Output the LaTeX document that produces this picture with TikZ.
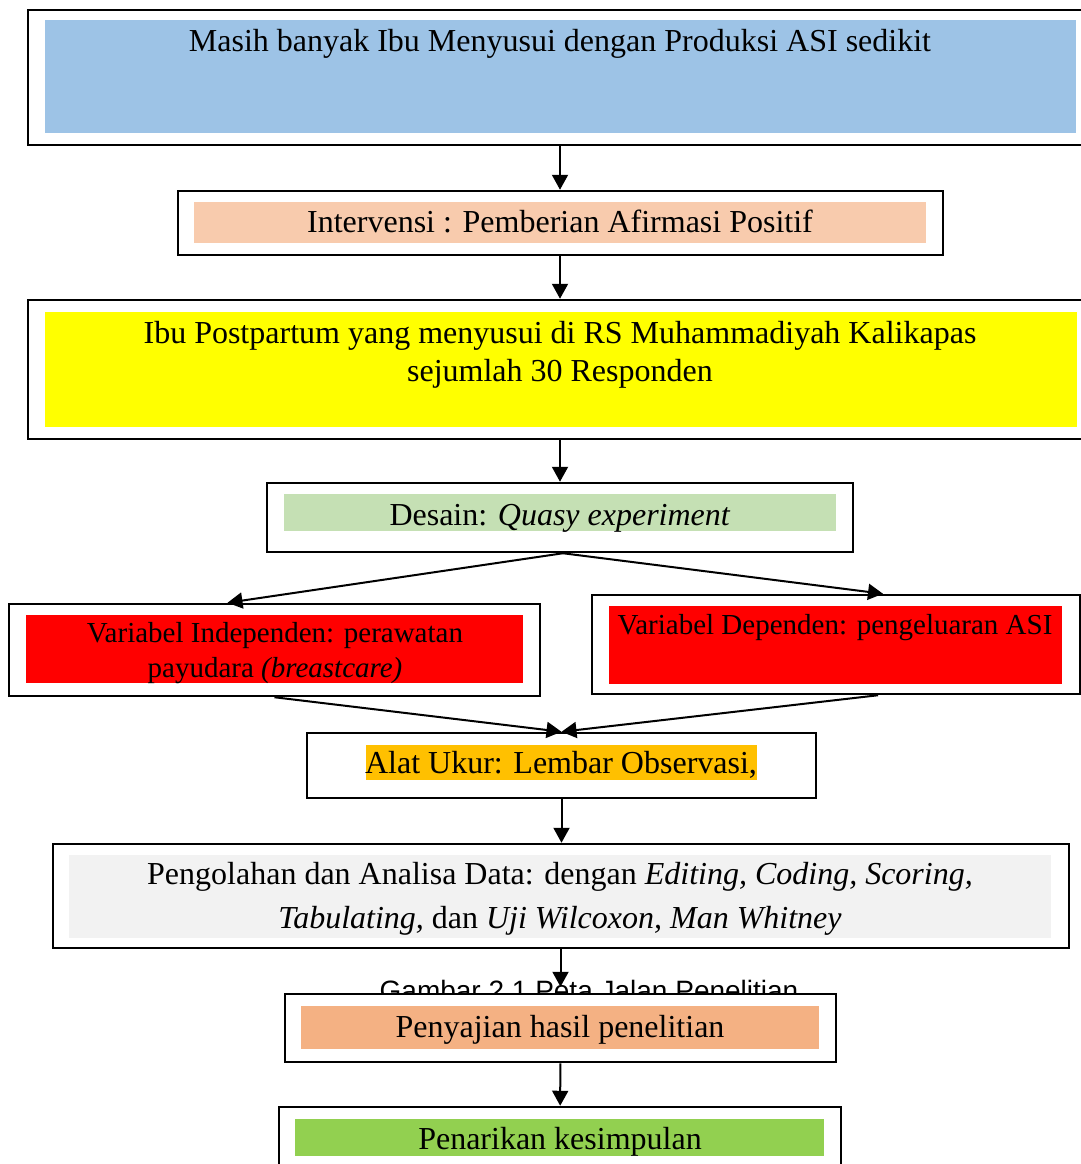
\documentclass[tikz,border=0pt]{standalone}
\usepackage{fontspec}
\setmainfont{Liberation Serif}
\newfontfamily\capfont{Liberation Sans}
\usetikzlibrary{arrows.meta}
\definecolor{biru}{HTML}{9DC3E6}
\definecolor{persik}{HTML}{F8CBAD}
\definecolor{kuning}{HTML}{FFFF00}
\definecolor{hijaumuda}{HTML}{C5E0B4}
\definecolor{merah}{HTML}{FF0000}
\definecolor{jingga}{HTML}{FFC000}
\definecolor{abu}{HTML}{F2F2F2}
\definecolor{salem}{HTML}{F4B183}
\definecolor{hijau}{HTML}{92D050}
\tikzset{
	kotak/.style={draw, line width=2.5pt, fill=white, inner sep=0pt},
	isi/.style={inner sep=0pt},
	teks/.style={anchor=base, inner sep=0pt, align=center, font=\fontsize{32}{38}\selectfont},
	teksvar/.style={teks, font=\fontsize{29}{35}\selectfont},
	panah/.style={-{Triangle[length=15pt,width=16pt]}, line width=2pt},
}

\begin{document}
\begin{tikzpicture}[x=1pt, y=-1pt]
			%%%%% START %%%%%
			\useasboundingbox (0, 0) rectangle (1081, 1164);
			
			% masalah
			\node[kotak, minimum width=1064pt, minimum height=135pt] (masalah) at (560, 77.5) {};
			\node[isi, fill=biru, minimum width=1031pt, minimum height=113pt] (masalahIsi) at (560.5, 76.5) {};
			\node[teks] (masalahTeks) at (560, 52) {Masih banyak Ibu Menyusui dengan Produksi ASI sedikit};
			
			% intervensi
			\node[kotak, minimum width=765pt, minimum height=64pt] (intervensi) at (560.5, 223) {};
			\node[isi, fill=persik, minimum width=732pt, minimum height=41pt] (intervensiIsi) at (560, 222.5) {};
			\node[teks] (intervensiTeks) at (560, 232) {Intervensi : Pemberian Afirmasi Positif};
			
			% responden
			\node[kotak, minimum width=1064pt, minimum height=139pt] (responden) at (560, 369.5) {};
			\node[isi, fill=kuning, minimum width=1032pt, minimum height=115pt] (respondenIsi) at (561, 369.5) {};
			\node[teks] (respondenTeks) at (560, 381) {Ibu Postpartum yang menyusui di RS Muhammadiyah Kalikapas\\sejumlah 30 Responden};
			
			% desain
			\node[kotak, minimum width=586pt, minimum height=69pt] (desain) at (560, 517.5) {};
			\node[isi, fill=hijaumuda, minimum width=552pt, minimum height=37pt] (desainIsi) at (560, 512.5) {};
			\node[teks] (desainTeks) at (560, 525) {Desain: \textit{Quasy experiment}};
			
			% variabel
			\node[kotak, minimum width=531pt, minimum height=92pt] (independen) at (274.5, 650) {};
			\node[isi, fill=merah, minimum width=497pt, minimum height=68pt] (independenIsi) at (274.5, 649) {};
			\node[teksvar] (independenTeks) at (275, 677) {Variabel Independen: perawatan\\payudara \textit{(breastcare)}};
			
			\node[kotak, minimum width=488pt, minimum height=99pt] (dependen) at (836, 644.5) {};
			\node[isi, fill=merah, minimum width=453pt, minimum height=78pt] (dependenIsi) at (835.5, 645) {};
			\node[teksvar] (dependenTeks) at (835, 634) {Variabel Dependen: pengeluaran ASI};
			
			% alat ukur
			\node[kotak, minimum width=509pt, minimum height=65pt] (alat) at (561.5, 765.5) {};
			\node[isi, fill=jingga, minimum width=391pt, minimum height=35pt] (alatIsi) at (561.5, 762.5) {};
			\node[teks] (alatTeks) at (561, 773) {Alat Ukur: Lembar Observasi,};
			
			% pengolahan
			\node[kotak, minimum width=1016pt, minimum height=104pt] (olah) at (561, 896) {};
			\node[isi, fill=abu, minimum width=982pt, minimum height=83pt] (olahIsi) at (560, 896.5) {};
			\node[teks, font=\fontsize{32}{44}\selectfont] (olahTeks) at (560, 928) {Pengolahan dan Analisa Data: dengan \textit{Editing, Coding, Scoring,}\\\textit{Tabulating,} dan \textit{Uji Wilcoxon, Man Whitney}};
			
			% keterangan gambar
			\node[anchor=base, inner sep=0pt, font=\capfont\fontsize{28}{34}\selectfont] (gambar) at (589, 1000) {Gambar 2.1 Peta Jalan Penelitian};
			
			% penyajian
			\node[kotak, minimum width=551pt, minimum height=68pt] (sajian) at (560.5, 1028) {};
			\node[isi, fill=salem, minimum width=518pt, minimum height=43pt] (sajianIsi) at (560, 1027.5) {};
			\node[teks] (sajianTeks) at (560, 1037) {Penyajian hasil penelitian};
			
			% kesimpulan
			\node[kotak, minimum width=562pt, minimum height=70pt] (simpulan) at (560, 1142) {};
			\node[isi, fill=hijau, minimum width=529pt, minimum height=37pt] (simpulanIsi) at (559.5, 1137.5) {};
			\node[teks] (simpulanTeks) at (560, 1149) {Penarikan kesimpulan};
			
			% panah
			\draw[panah] (masalah) -- (intervensi.north -| masalah);
			\draw[panah] (intervensi.south -| masalah) -- (responden);
			\draw[panah] (responden) -- (desain);
			\draw[panah] ([xshift=3pt]desain.south) -- ([xshift=-47pt]independen.north);
			\draw[panah] ([xshift=3pt]desain.south) -- ([xshift=47pt]dependen.north);
			\draw[panah] (independen.south) -- (alat.north);
			\draw[panah] ([xshift=42pt]dependen.south) -- (alat.north);
			\draw[panah] (alat.south) -- (alat.south |- olah.north);
			\draw[panah, shorten >=6pt] (olah.south -| sajian) -- (sajian.north);
			\draw[panah] (sajian) -- (simpulan);
			
			%%%%% END %%%%%
		\end{tikzpicture}
\end{document}
